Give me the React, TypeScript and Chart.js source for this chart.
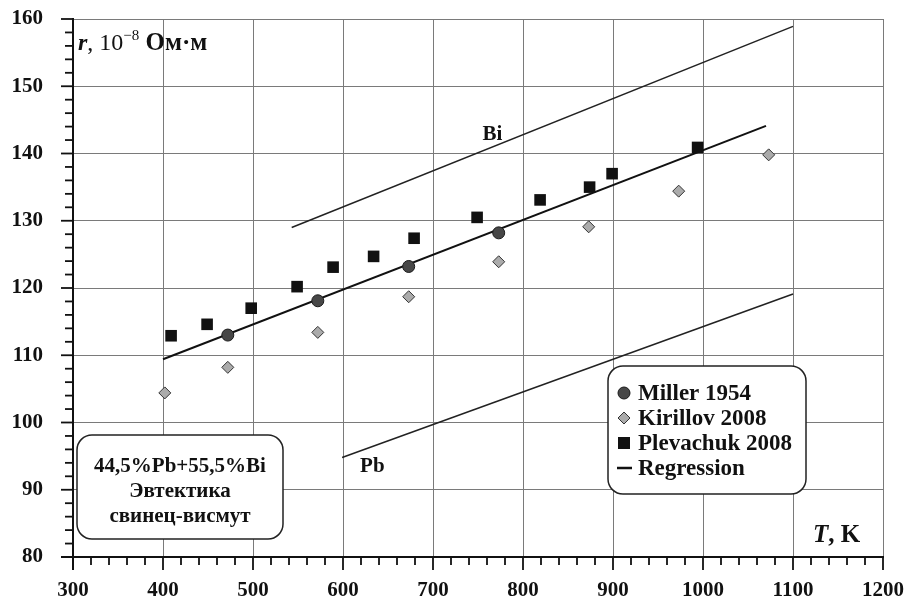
import React, { useEffect, useRef } from "react";
import { Chart, registerables } from "chart.js";

Chart.register(...registerables);

// ---- data ----
const millerT = [472, 572, 673, 773];
const millerR = [113.0, 118.1, 123.2, 128.2];

const kirillovT = [402, 472, 572, 673, 773, 873, 973, 1073];
const kirillovR = [104.4, 108.2, 113.4, 118.7, 123.9, 129.1, 134.4, 139.8];

const plevachukT = [409, 449, 498, 549, 589, 634, 679, 749, 819, 874, 899, 994];
const plevachukR = [112.9, 114.6, 117.0, 120.2, 123.1, 124.7, 127.4, 130.5, 133.1, 135.0, 137.0, 140.9];

const regressionT = [400, 1070];
const regressionR = [109.4, 144.1];

const biT = [543, 1100];
const biR = [129.0, 158.9];

const pbT = [599, 1100];
const pbR = [94.8, 119.1];

const xTickValues = [300, 400, 500, 600, 700, 800, 900, 1000, 1100, 1200];
const yTickValues = [80, 90, 100, 110, 120, 130, 140, 150, 160];
const xMinorStep = 20;
const yMinorStep = 2;

const legendLabels = ["Miller 1954", "Kirillov 2008", "Plevachuk 2008", "Regression"];
const boxLines = ["44,5%Pb+55,5%Bi", "Эвтектика", "свинец-висмут"];

const SERIF = "'Liberation Serif', 'Times New Roman', serif";

function pts(xs: number[], ys: number[]) {
  return xs.map((x, i) => ({ x, y: ys[i] }));
}

function roundRect(ctx: CanvasRenderingContext2D, x: number, y: number, w: number, h: number, r: number) {
  ctx.beginPath();
  ctx.moveTo(x + r, y);
  ctx.lineTo(x + w - r, y);
  ctx.arcTo(x + w, y, x + w, y + r, r);
  ctx.lineTo(x + w, y + h - r);
  ctx.arcTo(x + w, y + h, x + w - r, y + h, r);
  ctx.lineTo(x + r, y + h);
  ctx.arcTo(x, y + h, x, y + h - r, r);
  ctx.lineTo(x, y + r);
  ctx.arcTo(x, y, x + r, y, r);
  ctx.closePath();
}

const decorPlugin = {
  id: "decor",
  afterDraw(chart: any) {
    const ctx: CanvasRenderingContext2D = chart.ctx;
    const xs = chart.scales.x;
    const ys = chart.scales.y;
    const ca = chart.chartArea;
    ctx.save();

    // axis lines
    ctx.strokeStyle = "#111";
    ctx.lineWidth = 2;
    ctx.beginPath();
    ctx.moveTo(ca.left - 12, ca.bottom);
    ctx.lineTo(ca.right + 1, ca.bottom);
    ctx.moveTo(ca.left, ca.top - 1);
    ctx.lineTo(ca.left, ca.bottom + 13);
    ctx.stroke();

    // x ticks
    const x0 = xTickValues[0];
    const x1 = xTickValues[xTickValues.length - 1];
    ctx.lineWidth = 1.8;
    for (let t = x0; t <= x1; t += xMinorStep) {
      const px = xs.getPixelForValue(t);
      const major = xTickValues.includes(t);
      ctx.beginPath();
      ctx.moveTo(px, ca.bottom);
      ctx.lineTo(px, ca.bottom + (major ? 13 : 8));
      ctx.stroke();
    }
    // y ticks
    const y0 = yTickValues[0];
    const y1 = yTickValues[yTickValues.length - 1];
    for (let v = y0; v <= y1; v += yMinorStep) {
      const py = ys.getPixelForValue(v);
      const major = yTickValues.includes(v);
      ctx.beginPath();
      ctx.moveTo(ca.left, py);
      ctx.lineTo(ca.left - (major ? 12 : 8), py);
      ctx.stroke();
    }

    // y axis title
    ctx.fillStyle = "#111";
    ctx.textBaseline = "alphabetic";
    ctx.textAlign = "left";
    let tx = ca.left + 5;
    const ty = ca.top + 31;
    const parts: [string, string, number][] = [
      ["r", "italic bold 24px " + SERIF, 0],
      [", 10", "24px " + SERIF, 0],
      ["−8", "15px " + SERIF, -10],
      [" Ом·м", "bold 25px " + SERIF, 0],
    ];
    for (const [s, f, dy] of parts) {
      ctx.font = f;
      ctx.fillText(s, tx, ty + dy);
      tx += ctx.measureText(s).width;
    }

    // x axis title
    let kx = 813;
    const ky = 542;
    ctx.font = "italic bold 25px " + SERIF;
    ctx.fillText("T", kx, ky);
    kx += ctx.measureText("T").width;
    ctx.font = "bold 25px " + SERIF;
    ctx.fillText(", K", kx, ky);

    // Bi / Pb labels
    ctx.font = "bold 21px " + SERIF;
    ctx.fillText("Bi", xs.getPixelForValue(755), ys.getPixelForValue(142.0));
    ctx.fillText("Pb", xs.getPixelForValue(619), ys.getPixelForValue(92.6));

    // left info box
    ctx.lineWidth = 1.5;
    ctx.strokeStyle = "#222";
    ctx.fillStyle = "#fff";
    roundRect(ctx, 77, 435, 206, 104, 15);
    ctx.fill();
    ctx.stroke();
    ctx.fillStyle = "#111";
    ctx.font = "bold 21px " + SERIF;
    ctx.textAlign = "center";
    boxLines.forEach((s, i) => ctx.fillText(s, 180, 472 + i * 25));

    // legend box
    ctx.fillStyle = "#fff";
    roundRect(ctx, 608, 366, 198, 128, 15);
    ctx.fill();
    ctx.stroke();
    ctx.textAlign = "left";
    ctx.font = "bold 23px " + SERIF;
    const mx = 624;
    legendLabels.forEach((s, i) => {
      const by = 400 + i * 25;
      const cy = by - 7;
      const ds = chart.data.datasets[i];
      ctx.lineWidth = 1;
      ctx.strokeStyle = ds.pointBorderColor || "#111";
      ctx.fillStyle = ds.pointBackgroundColor || "#111";
      if (ds.pointStyle === "circle") {
        ctx.beginPath();
        ctx.arc(mx, cy, 6, 0, Math.PI * 2);
        ctx.fill();
        ctx.stroke();
      } else if (ds.pointStyle === "rectRot") {
        ctx.beginPath();
        ctx.moveTo(mx, cy - 6);
        ctx.lineTo(mx + 6, cy);
        ctx.lineTo(mx, cy + 6);
        ctx.lineTo(mx - 6, cy);
        ctx.closePath();
        ctx.fill();
        ctx.stroke();
      } else if (ds.pointStyle === "rect") {
        ctx.fillRect(mx - 6, cy - 6, 12, 12);
      } else {
        ctx.strokeStyle = ds.borderColor;
        ctx.lineWidth = 2.5;
        ctx.beginPath();
        ctx.moveTo(mx - 7, cy);
        ctx.lineTo(mx + 8, cy);
        ctx.stroke();
      }
      ctx.fillStyle = "#111";
      ctx.fillText(s, 638, by);
    });

    ctx.restore();
  },
};

function zeroPad(s: any) {
  s.paddingLeft = 0;
  s.paddingRight = 0;
  s.paddingTop = 0;
  s.paddingBottom = 0;
}

export default function App() {
  const ref = useRef<HTMLCanvasElement | null>(null);
  useEffect(() => {
    if (!ref.current) return;
    const chart = new Chart(ref.current, {
      type: "scatter",
      data: {
        datasets: [
          {
            label: legendLabels[0],
            data: pts(millerT, millerR),
            pointStyle: "circle",
            pointRadius: 6,
            pointBackgroundColor: "#474747",
            pointBorderColor: "#1a1a1a",
            pointBorderWidth: 1,
            order: 1,
          } as any,
          {
            label: legendLabels[1],
            data: pts(kirillovT, kirillovR),
            pointStyle: "rectRot",
            pointRadius: 6,
            pointBackgroundColor: "#ababab",
            pointBorderColor: "#333",
            pointBorderWidth: 1,
            order: 1,
          },
          {
            label: legendLabels[2],
            data: pts(plevachukT, plevachukR),
            pointStyle: "rect",
            pointRadius: 8.2,
            pointBackgroundColor: "#111",
            pointBorderColor: "#111",
            pointBorderWidth: 0,
            order: 0,
          },
          {
            label: legendLabels[3],
            data: pts(regressionT, regressionR),
            showLine: true,
            borderColor: "#111",
            borderWidth: 2,
            pointRadius: 0,
            order: 2,
          },
          {
            label: "Bi",
            data: pts(biT, biR),
            showLine: true,
            borderColor: "#222",
            borderWidth: 1.5,
            pointRadius: 0,
            order: 2,
          },
          {
            label: "Pb",
            data: pts(pbT, pbR),
            showLine: true,
            borderColor: "#222",
            borderWidth: 1.5,
            pointRadius: 0,
            order: 2,
          },
        ],
      },
      options: {
        animation: false,
        responsive: false,
        maintainAspectRatio: false,
        layout: { padding: { top: 19, right: 24, left: 0, bottom: 0 } },
        plugins: {
          legend: { display: false },
          tooltip: { enabled: false },
        },
        scales: {
          x: {
            type: "linear",
            min: xTickValues[0],
            max: xTickValues[xTickValues.length - 1],
            afterBuildTicks: (s: any) => {
              s.ticks = xTickValues.map((v) => ({ value: v }));
            },
            afterFit: (s: any) => {
              s.height = 52;
              zeroPad(s);
            },
            ticks: {
              color: "#111",
              padding: 21,
              maxRotation: 0,
              autoSkip: false,
              callback: (v: any) => String(v),
              font: { family: SERIF, weight: "bold", size: 21 },
            },
            grid: { color: "#7a7a7a", lineWidth: 1, drawTicks: false },
            border: { display: false },
          },
          y: {
            type: "linear",
            min: yTickValues[0],
            max: yTickValues[yTickValues.length - 1],
            afterBuildTicks: (s: any) => {
              s.ticks = yTickValues.map((v) => ({ value: v }));
            },
            afterFit: (s: any) => {
              s.width = 73;
              zeroPad(s);
            },
            ticks: {
              color: "#111",
              padding: 30,
              autoSkip: false,
              callback: (v: any) => String(v),
              font: { family: SERIF, weight: "bold", size: 21 },
            },
            grid: { color: "#7a7a7a", lineWidth: 1, drawTicks: false },
            border: { display: false },
          },
        },
      },
      plugins: [decorPlugin],
    });
    return () => chart.destroy();
  }, []);

  return (
    <div style={{ position: "fixed", left: 0, top: 0, width: 907, height: 609, background: "#fff" }}>
      <canvas ref={ref} width={907} height={609} style={{ width: 907, height: 609, display: "block" }} />
    </div>
  );
}
